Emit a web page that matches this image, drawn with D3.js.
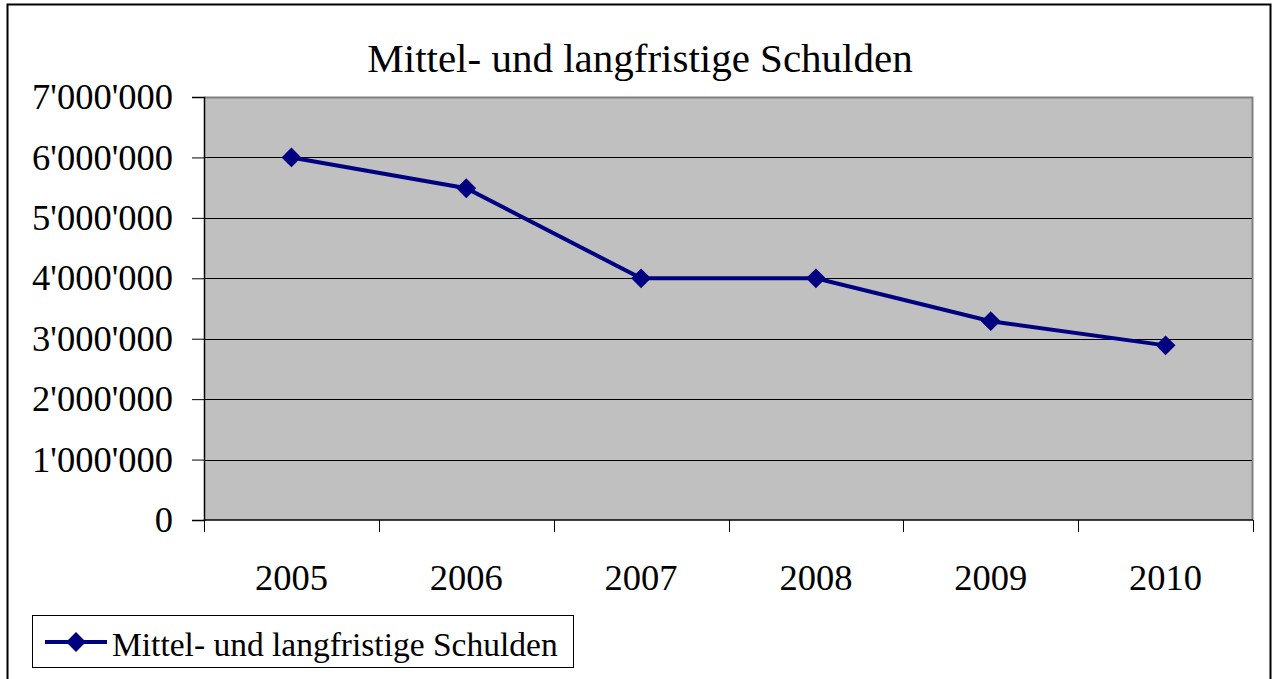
<!DOCTYPE html>
<html>
<head>
<meta charset="utf-8">
<script src="https://cdn.jsdelivr.net/npm/d3@7"></script>
<style>
  body { margin: 0; background: #fff; }
  svg { display: block; font-family: "Liberation Serif", "Times New Roman", serif; }
</style>
</head>
<body>
<div class="chart"></div>
<script>
// data
const years = ["2005", "2006", "2007", "2008", "2009", "2010"]
const schulden = [6000000, 5490000, 4000000, 4000000, 3290000, 2890000]
const yTicks = [0, 1000000, 2000000, 3000000, 4000000, 5000000, 6000000, 7000000]
const title = "Mittel- und langfristige Schulden"
const seriesName = "Mittel- und langfristige Schulden"

const width = 1274
const height = 679
const plot = { left: 204, right: 1253, top: 97, bottom: 520 }

const svg = d3.select(".chart")
  .append("svg")
  .attr("width", width)
  .attr("height", height)

// outer frame
svg.append("rect")
  .attr("x", 7.5).attr("y", 4.5)
  .attr("width", 1263).attr("height", 690)
  .attr("fill", "#fff")
  .attr("stroke", "#000")
  .attr("stroke-width", 2)

const x = d3.scaleBand()
  .domain(years)
  .range([plot.left, plot.right])
  .padding(0)

const y = d3.scaleLinear()
  .domain([0, 7000000])
  .range([plot.bottom, plot.top])

// plot background
svg.append("rect")
  .attr("x", plot.left).attr("y", plot.top)
  .attr("width", plot.right - plot.left)
  .attr("height", plot.bottom - plot.top)
  .attr("fill", "#c0c0c0")

// top + right border (grey)
svg.append("path")
  .attr("d", `M${plot.left},${plot.top + 0.5}H${plot.right - 0.5}V${plot.bottom}`)
  .attr("fill", "none")
  .attr("stroke", "#808080")
  .attr("stroke-width", 2)

// gridlines
svg.append("g")
  .selectAll("line")
  .data(yTicks.filter(d => d > 0 && d < 7000000))
  .enter()
  .append("line")
    .attr("x1", plot.left).attr("x2", plot.right - 1)
    .attr("y1", d => Math.round(y(d)) + 0.5)
    .attr("y2", d => Math.round(y(d)) + 0.5)
    .attr("stroke", "#000")
    .attr("stroke-width", 1)

const fmt = d => d3.format(",")(d).replace(/,/g, "'")

// y axis
const yAxis = svg.append("g")
  .attr("transform", `translate(${plot.left},0)`)
  .call(d3.axisLeft(y).tickValues(yTicks).tickSize(12).tickPadding(19).tickFormat(fmt))
yAxis.select(".domain").attr("stroke", "#000").attr("stroke-width", 1.5)
yAxis.selectAll(".tick line").attr("stroke", "#000")
yAxis.selectAll("text")
  .attr("fill", "#000")
  .style("font-size", "36.5px")
  .style("font-family", "Liberation Serif, serif")

// x axis: line, ticks at band boundaries, labels at band centres
svg.append("line")
  .attr("x1", plot.left).attr("x2", plot.right)
  .attr("y1", plot.bottom).attr("y2", plot.bottom)
  .attr("stroke", "#000").attr("stroke-width", 1.5)

const bounds = years.map(d => x(d)).concat([plot.right])
svg.append("g")
  .selectAll("line")
  .data(bounds)
  .enter()
  .append("line")
    .attr("x1", d => Math.round(d) + 0.5).attr("x2", d => Math.round(d) + 0.5)
    .attr("y1", plot.bottom).attr("y2", plot.bottom + 12)
    .attr("stroke", "#000")

svg.append("g")
  .selectAll("text")
  .data(years)
  .enter()
  .append("text")
    .attr("x", d => x(d) + x.bandwidth() / 2)
    .attr("y", 590)
    .attr("text-anchor", "middle")
    .style("font-size", "36.5px")
    .text(d => d)

// title
svg.append("text")
  .attr("x", 640)
  .attr("y", 72)
  .attr("text-anchor", "middle")
  .style("font-size", "41px")
  .text(title)

// series line
const pts = years.map((d, i) => [x(d) + x.bandwidth() / 2, y(schulden[i])])
svg.append("path")
  .attr("d", d3.line()(pts))
  .attr("fill", "none")
  .attr("stroke", "#000080")
  .attr("stroke-width", 4)

const diamond = d3.symbol().type(d3.symbolDiamond2).size(250)
svg.append("g")
  .selectAll("path")
  .data(pts)
  .enter()
  .append("path")
    .attr("d", diamond)
    .attr("transform", d => `translate(${d[0]},${d[1]})`)
    .attr("fill", "#000080")

// legend
svg.append("rect")
  .attr("x", 32.5).attr("y", 615.5)
  .attr("width", 541).attr("height", 52)
  .attr("fill", "#fff")
  .attr("stroke", "#000")
  .attr("stroke-width", 1)

svg.append("line")
  .attr("x1", 45).attr("x2", 107)
  .attr("y1", 642).attr("y2", 642)
  .attr("stroke", "#000080")
  .attr("stroke-width", 4)
svg.append("path")
  .attr("d", diamond)
  .attr("transform", "translate(76,642)")
  .attr("fill", "#000080")

svg.append("text")
  .attr("x", 112)
  .attr("y", 656)
  .style("font-size", "33.5px")
  .text(seriesName)
</script>
</body>
</html>
